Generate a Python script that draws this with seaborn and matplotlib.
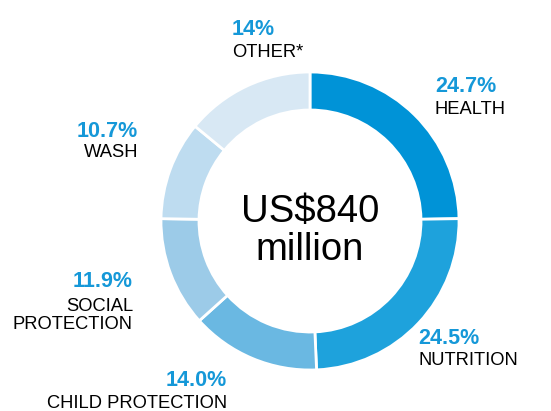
import matplotlib
matplotlib.use("Agg")
import matplotlib.pyplot as plt
import seaborn as sns

# Funding shares by sector (percent of total)
sectors = ["HEALTH", "NUTRITION", "CHILD PROTECTION", "SOCIAL\nPROTECTION", "WASH", "OTHER*"]
shares = [24.7, 24.5, 14.0, 11.9, 10.7, 14]
share_labels = ["24.7%", "24.5%", "14.0%", "11.9%", "10.7%", "14%"]
total_lines = ["US$840", "million"]

sns.set_theme(style="white")
plt.rcParams["font.family"] = ["Liberation Sans", "DejaVu Sans"]

palette = sns.color_palette(["#0093d7", "#1ea2dc", "#6ab8e2", "#9ccbe8", "#bedcf0", "#d8e8f4"])
accent = "#1598d8"

W, H = 551, 411
fig = plt.figure(figsize=(W / 100, H / 100), dpi=100)
fig.patch.set_facecolor("white")

# ring: centre at (310, 221) px, outer radius 149 px
cx, cy, r = 310, 221, 149
ax = fig.add_axes([(cx - r) / W, (H - cy - r) / H, 2 * r / W, 2 * r / H])
ax.pie(shares, colors=palette, startangle=90, counterclock=False, radius=1,
       wedgeprops=dict(width=0.255, edgecolor="white", linewidth=2.0))
ax.set_xlim(-1, 1)
ax.set_ylim(-1, 1)
ax.set_aspect("equal")
ax.axis("off")

def px(x, y):
    return x / W, 1 - y / H

# centre total
fig.text(*px(cx, 222), total_lines[0], ha="center", va="baseline", fontsize=27.5, color="black")
fig.text(*px(cx, 260), total_lines[1], ha="center", va="baseline", fontsize=27.5, color="black")

# label anchors: (x, pct baseline, baseline of the last name line, alignment)
anchors = [
    (435, 92, 114, "left"),
    (418, 344, 365, "left"),
    (227, 386, 408, "right"),
    (133, 287, 329, "right"),
    (138, 137, 157, "right"),
    (232, 35, 57, "left"),
]

for name, lab, (x, yp, yn, ha) in zip(sectors, share_labels, anchors):
    fig.text(*px(x, yp), lab, ha=ha, va="baseline", fontsize=15.5, fontweight="bold", color=accent)
    fig.text(*px(x, yn), name, ha=ha, va="baseline", fontsize=13.2, color="black",
             multialignment=ha, linespacing=1.1)

fig.savefig("out.png", dpi=100, facecolor="white")
